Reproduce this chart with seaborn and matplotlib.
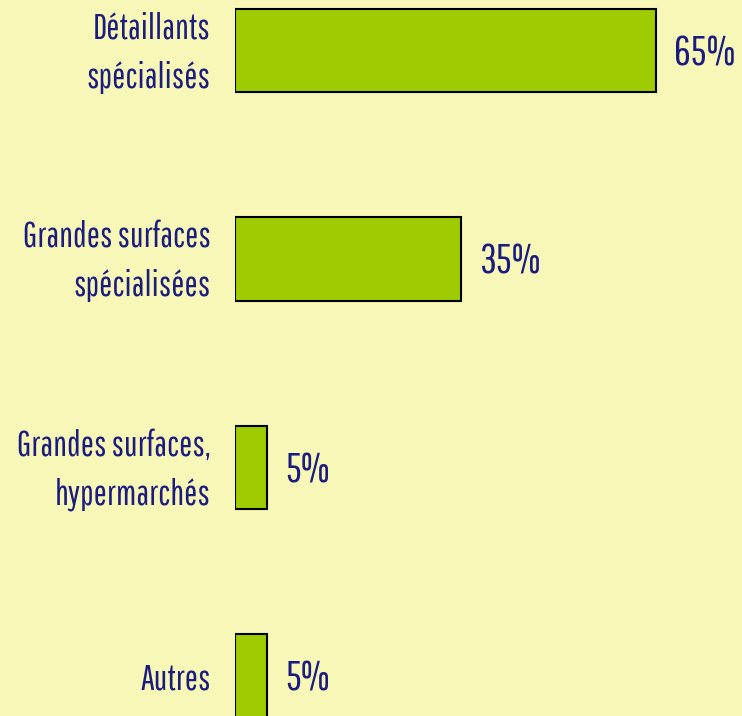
import matplotlib
matplotlib.use("Agg")
import matplotlib.pyplot as plt
import matplotlib.transforms as mtransforms
import seaborn as sns
import pandas as pd
from matplotlib import font_manager

categories = ["Détaillants\nspécialisés", "Grandes surfaces\nspécialisées",
              "Grandes surfaces,\nhypermarchés", "Autres"]
values = [65, 35, 5, 5]
value_labels = ["65%", "35%", "5%", "5%"]

names = {f.name for f in font_manager.fontManager.ttflist}
prefs = ["Pathway Gothic One", "Roboto Condensed", "Barlow Condensed", "Oswald",
         "Liberation Sans Narrow", "DejaVu Sans"]
fam = next(p for p in prefs if p in names)

BG = "#F7F7B7"
GREEN = "#9ECC00"
NAVY = "#1C1C80"

sns.set_theme(style="white")
plt.rcParams["font.family"] = [fam, "DejaVu Sans"]

df = pd.DataFrame({"cat": categories, "val": values})
fig = plt.figure(figsize=(7.42, 7.16), dpi=100, facecolor=BG)
ax = fig.add_axes([235 / 742, 0, 1 - 235 / 742, 1])
ax.set_facecolor(BG)
sns.barplot(data=df, x="val", y="cat", orient="h", color=GREEN, width=0.4,
            edgecolor="black", linewidth=1.5, saturation=1, ax=ax)
for p in ax.patches:
    p.set_facecolor(GREEN)
ax.set_xlim(0, (742 - 235) / 6.47)
ax.set_ylim((716 - 50.5) / 208.5, -50.5 / 208.5)
anns = ax.bar_label(ax.containers[0], labels=value_labels, padding=12, color=NAVY,
                    fontsize=30)
for a in anns:
    a.xyann = (13, -2)
for s in ax.spines.values():
    s.set_visible(False)
ax.set_xticks([])
ax.set_xlabel("")
ax.set_ylabel("")
ax.tick_params(axis="y", length=0, pad=17.5, labelsize=25, labelcolor=NAVY)
shift = mtransforms.ScaledTranslation(0, 9 / 100, fig.dpi_scale_trans)
for t in ax.get_yticklabels():
    t.set_linespacing(1.6)
    if "\n" in t.get_text():
        t.set_transform(t.get_transform() + shift)
fig.savefig("out.png", dpi=100, facecolor=BG)
